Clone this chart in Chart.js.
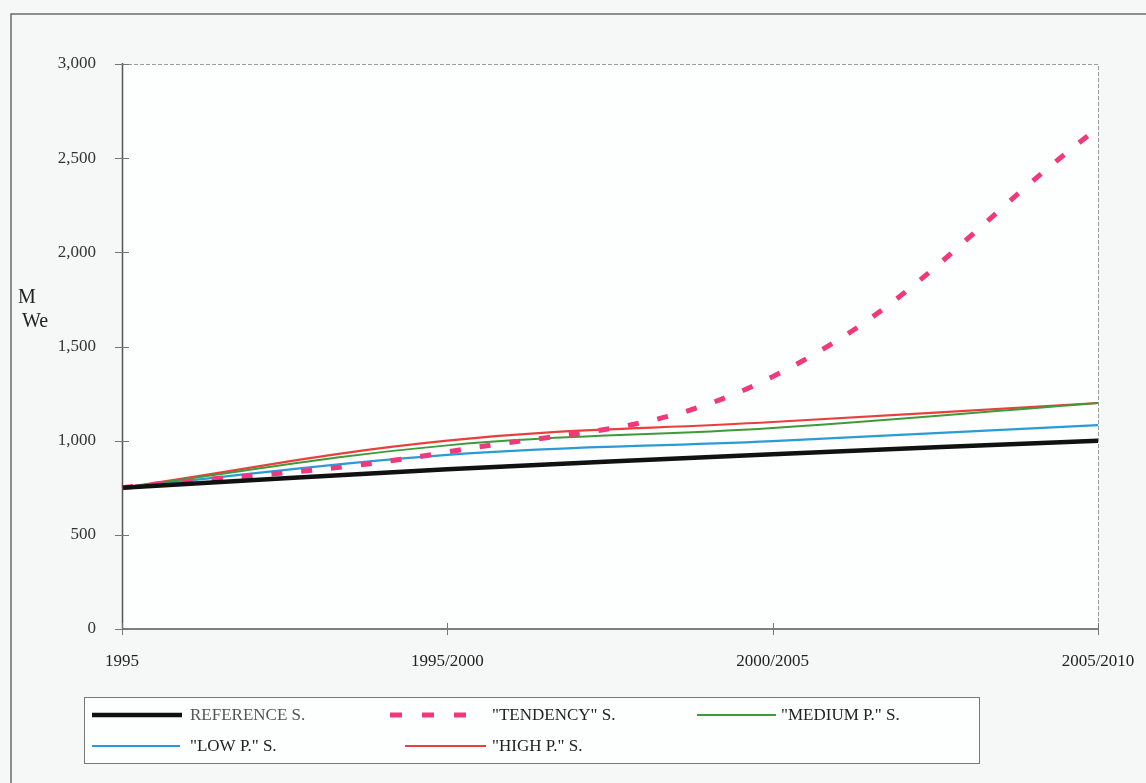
<!DOCTYPE html>
<html>
<head>
<meta charset="utf-8">
<script src="https://cdn.jsdelivr.net/npm/chart.js@4.4.1/dist/chart.umd.min.js"></script>
<style>
  html, body { margin: 0; padding: 0; background: #f6f8f8; }
  #wrap { position: relative; width: 1146px; height: 783px; }
  canvas { display: block; }
</style>
</head>
<body>
<div id="wrap"><canvas id="c" width="1146" height="783"></canvas></div>
<script>
// Installed capacity scenarios (MWe)
const categories = ['1995', '1995/2000', '2000/2005', '2005/2010'];
const referenceS = [750, 848, 928, 1000];
const tendencyS  = [750, 940, 1340, 2660];
const mediumS    = [750, 975, 1067, 1200];
const lowS       = [750, 925, 998, 1083];
const highS      = [750, 1000, 1099, 1200];
const yTicks     = [0, 500, 1000, 1500, 2000, 2500, 3000];

const SERIF = '"Liberation Serif", "DejaVu Serif", serif';

// legend placement: [column, row, sample start, sample end, text x]
const datasets = [
  { label: 'REFERENCE S.',   data: referenceS, borderColor: '#111111', borderWidth: 4.5, leg: [0, 92, 182, 190], textColor: '#555' },
  { label: '"TENDENCY" S.',  data: tendencyS,  borderColor: '#f0387c', borderWidth: 5, borderDash: [11, 19], leg: [0, 390, 472, 492], textColor: '#222' },
  { label: '"MEDIUM P." S.', data: mediumS,    borderColor: '#3e9a3a', borderWidth: 2, leg: [0, 697, 776, 781], textColor: '#222' },
  { label: '"LOW P." S.',    data: lowS,       borderColor: '#2b9bd6', borderWidth: 2.2, leg: [1, 92, 180, 190], textColor: '#222' },
  { label: '"HIGH P." S.',   data: highS,      borderColor: '#e8403c', borderWidth: 2.2, leg: [1, 405, 486, 492], textColor: '#222' }
];

// Frame, plot background, crossing ticks, axis title and legend box
const decor = {
  id: 'decor',
  beforeDraw(chart) {
    const { ctx, chartArea: a } = chart;
    ctx.save();
    ctx.fillStyle = '#fdfefe';
    ctx.fillRect(a.left, a.top, a.right - a.left, a.bottom - a.top);
    // outer frame (left and top)
    ctx.strokeStyle = '#6a6a6a';
    ctx.lineWidth = 1.5;
    ctx.beginPath();
    ctx.moveTo(11, 783);
    ctx.lineTo(11, 14);
    ctx.lineTo(1146, 14);
    ctx.stroke();
    // plot box: top and right in light grey
    ctx.strokeStyle = '#9a9a9a';
    ctx.lineWidth = 1;
    ctx.setLineDash([4, 2]);
    ctx.beginPath();
    ctx.moveTo(a.left, a.top + 0.5);
    ctx.lineTo(a.right + 0.5, a.top + 0.5);
    ctx.lineTo(a.right + 0.5, a.bottom);
    ctx.stroke();
    ctx.setLineDash([]);
    ctx.restore();
  },
  afterDraw(chart) {
    const { ctx, chartArea: a, scales } = chart;
    ctx.save();
    // axis lines
    ctx.strokeStyle = '#555';
    ctx.lineWidth = 1.5;
    ctx.beginPath();
    ctx.moveTo(a.left + 0.5, a.top - 1);
    ctx.lineTo(a.left + 0.5, a.bottom);
    ctx.lineTo(a.right, a.bottom);
    ctx.stroke();
    // ticks crossing the axes
    ctx.strokeStyle = '#777';
    ctx.lineWidth = 1;
    yTicks.forEach(v => {
      const y = Math.round(scales.y.getPixelForValue(v)) + 0.5;
      ctx.beginPath();
      ctx.moveTo(a.left - 7, y);
      ctx.lineTo(a.left + 7, y);
      ctx.stroke();
    });
    categories.forEach((c, i) => {
      const x = Math.round(scales.x.getPixelForValue(i)) + 0.5;
      ctx.beginPath();
      ctx.moveTo(x, a.bottom - 6);
      ctx.lineTo(x, a.bottom + 6);
      ctx.stroke();
    });
    // axis title
    ctx.fillStyle = '#222';
    ctx.font = '20px ' + SERIF;
    ctx.textBaseline = 'middle';
    ctx.textAlign = 'left';
    ctx.fillText('M', 18, 298);
    ctx.fillText('We', 22, 322);

    // legend
    const box = { x: 84.5, y: 697.5, w: 895, h: 66 };
    ctx.fillStyle = '#fdfefe';
    ctx.fillRect(box.x, box.y, box.w, box.h);
    ctx.strokeStyle = '#777';
    ctx.lineWidth = 1;
    ctx.strokeRect(box.x, box.y, box.w, box.h);
    const rowY = [715, 746];
    ctx.font = '17px ' + SERIF;
    chart.data.datasets.forEach(ds => {
      const [row, x0, x1, tx] = ds.leg;
      const y0 = rowY[row];
      ctx.strokeStyle = ds.borderColor;
      ctx.lineWidth = ds.borderWidth;
      ctx.setLineDash(ds.borderDash ? [12, 20] : []);
      ctx.beginPath();
      ctx.moveTo(x0, y0);
      ctx.lineTo(x1, y0);
      ctx.stroke();
      ctx.setLineDash([]);
      ctx.fillStyle = ds.textColor;
      ctx.textAlign = 'left';
      ctx.textBaseline = 'middle';
      ctx.fillText(ds.label, tx, y0 + 1);
    });
    ctx.restore();
  }
};

new Chart(document.getElementById('c'), {
  type: 'line',
  data: {
    labels: categories,
    datasets: datasets.map(d => Object.assign({
      fill: false,
      tension: 0.4,
      pointRadius: 0,
      pointHoverRadius: 0,
      borderCapStyle: 'butt'
    }, d))
  },
  options: {
    responsive: false,
    animation: false,
    events: [],
    layout: { padding: { left: 0, top: 64, right: 48, bottom: 100 } },
    plugins: {
      legend: { display: false },
      tooltip: { enabled: false },
      title: { display: false }
    },
    scales: {
      x: {
        offset: false,
        grid: { display: false, drawTicks: false },
        border: { display: false },
        ticks: {
          color: '#222',
          font: { family: SERIF, size: 17 },
          padding: 22,
          maxRotation: 0,
          autoSkip: false
        },
        afterFit(scale) {
          scale.height = 54;
          scale.paddingLeft = 0;
          scale.paddingRight = 0;
        }
      },
      y: {
        min: 0,
        max: 3000,
        grid: { display: false, drawTicks: false },
        border: { display: false },
        afterBuildTicks(scale) { scale.ticks = yTicks.map(v => ({ value: v })); },
        ticks: {
          color: '#333',
          font: { family: SERIF, size: 17 },
          padding: 26,
          callback: v => v.toLocaleString('en-US')
        },
        afterFit(scale) {
          scale.width = 122;
          scale.paddingTop = 0;
          scale.paddingBottom = 0;
        }
      }
    }
  },
  plugins: [decor]
});
</script>
</body>
</html>
